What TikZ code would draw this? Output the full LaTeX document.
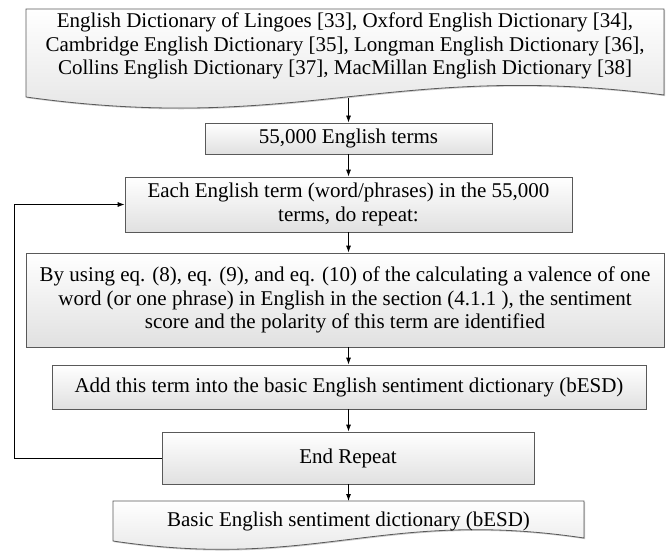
\documentclass[tikz,border=0pt]{standalone}
\usepackage{fontspec}
\setmainfont{Liberation Serif}
\usetikzlibrary{arrows.meta,shadows}
\begin{document}
\begin{tikzpicture}[x=1pt,y=-1pt,
  every node/.style={font=\fontsize{21}{23.5}\selectfont, inner sep=0pt},
  boxfill/.style={top color=white, bottom color=black!12, draw=black!65, line width=0.8pt,
     drop shadow={shadow xshift=1.2pt, shadow yshift=-1.2pt, fill=black!35, opacity=0.6}},
  stepbox/.style={boxfill, rectangle, align=center},
  arr/.style={-{Latex[length=7pt,width=5pt]}, line width=0.8pt, black},
  lnk/.style={line width=0.8pt, black}]
\useasboundingbox (0,0) rectangle (668,556);

% top document shape
\path[boxfill] (26,9) -- (664,9) -- (664,95)
   .. controls (390,60) and (300,135) .. (26,97) -- cycle;
\node[align=center] (src) at (345,46) {English Dictionary of Lingoes [33], Oxford English Dictionary [34],\\
Cambridge English Dictionary [35], Longman English Dictionary [36],\\
Collins English Dictionary [37], MacMillan English Dictionary [38]};
\coordinate (srcbot) at (348.5,98);

\node[stepbox, minimum width=287pt, minimum height=31pt] (terms) at (348.5,138.5) {55,000 English terms};
\node[stepbox, minimum width=447pt, minimum height=55pt] (each) at (348.5,204.5)
  {Each English term (word/phrases) in the 55,000\\terms, do repeat:};
\node[stepbox, minimum width=638pt, minimum height=94pt] (calc) at (345,300)
  {By using eq. (8), eq. (9), and eq. (10) of the calculating a valence of one\\
   word (or one phrase) in English in the section (4.1.1 ), the sentiment\\
   score and the polarity of this term are identified};
\node[stepbox, minimum width=594pt, minimum height=44pt] (add) at (349,387)
  {Add this term into the basic English sentiment dictionary (bESD)};
\node[stepbox, minimum width=372pt, minimum height=52pt] (endr) at (348,458) {End Repeat};

% bottom document shape
\path[boxfill] (113,501) -- (584,501) -- (584,538)
   .. controls (382,508) and (315,571) .. (113,541) -- cycle;
\node (besd) at (348.5,521) {Basic English sentiment dictionary (bESD)};
\coordinate (besdtop) at (348.5,501);
\coordinate (loopx) at (14,0);

\draw[arr] (srcbot) -- (srcbot |- terms.north);
\draw[arr] (terms.south) -- (terms.south |- each.north);
\draw[arr] (each.south) -- (each.south |- calc.north);
\draw[arr] (each.south |- calc.south) -- (each.south |- add.north);
\draw[arr] (each.south |- add.south) -- (each.south |- endr.north);
\draw[arr] (each.south |- endr.south) -- (besdtop);
\draw[lnk] (endr.west) -- (endr.west -| loopx) -- (loopx |- each.west);
\draw[arr] (loopx |- each.west) -- (each.west);
\end{tikzpicture}
\end{document}
